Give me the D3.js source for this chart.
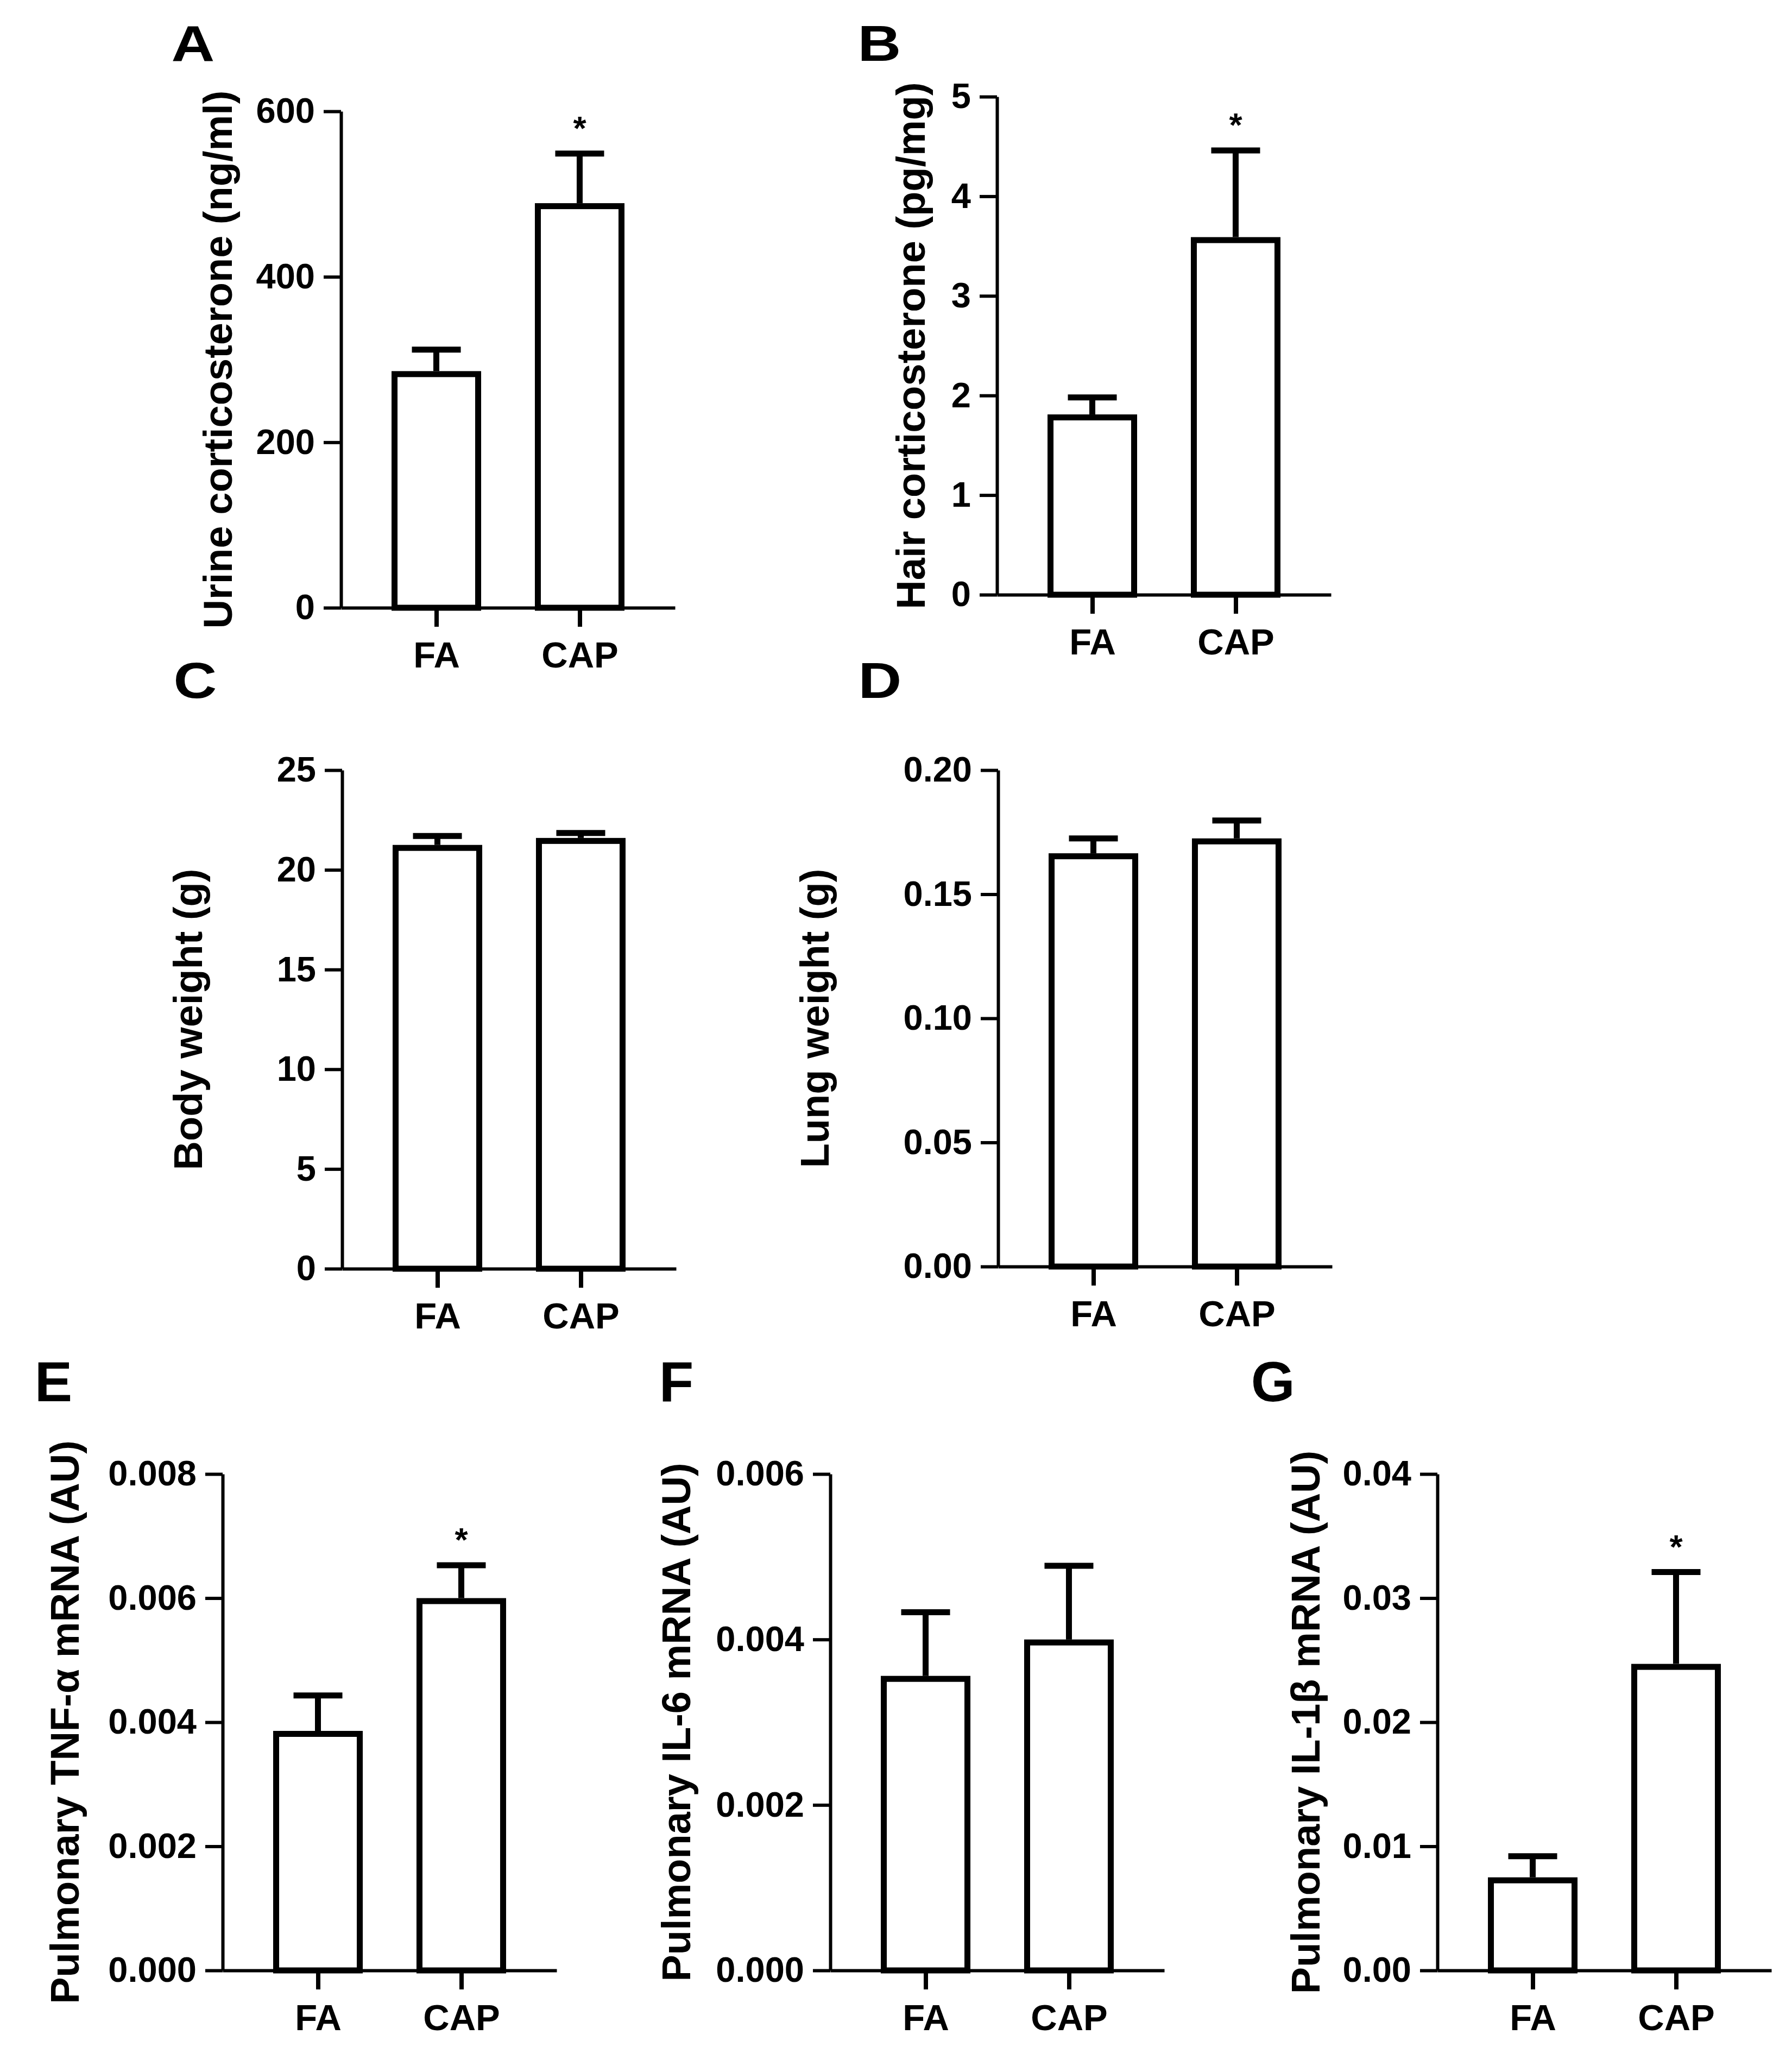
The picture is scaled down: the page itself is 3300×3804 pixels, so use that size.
<!DOCTYPE html>
<html>
<head>
<meta charset="utf-8">
<script src="https://cdn.jsdelivr.net/npm/d3@7"></script>
<style>
  html, body { margin: 0; padding: 0; background: #fff; }
  svg { display: block; }
  text { font-family: "Liberation Sans", Arial, sans-serif; font-weight: bold; fill: #000; }
</style>
</head>
<body>
<svg id="fig" width="3300" height="3804"></svg>
<script>
// ---------- data ----------
const categories = ["FA", "CAP"];

const urineMean = [286, 489];
const urineSem  = [26, 60];
const urineSig  = [false, true];
const urineTicks = [0, 200, 400, 600];

const hairMean = [1.81, 3.59];
const hairSem  = [0.17, 0.87];
const hairSig  = [false, true];
const hairTicks = [0, 1, 2, 3, 4, 5];

const bodyMean = [21.25, 21.6];
const bodySem  = [0.45, 0.25];
const bodySig  = [false, false];
const bodyTicks = [0, 5, 10, 15, 20, 25];

const lungMean = [0.1665, 0.1725];
const lungSem  = [0.006, 0.0072];
const lungSig  = [false, false];
const lungTicks = [0, 0.05, 0.10, 0.15, 0.20];

const tnfMean = [0.00386, 0.0060];
const tnfSem  = [0.00057, 0.00053];
const tnfSig  = [false, true];
const tnfTicks = [0, 0.002, 0.004, 0.006, 0.008];

const il6Mean = [0.00356, 0.0040];
const il6Sem  = [0.00077, 0.00089];
const il6Sig  = [false, false];
const il6Ticks = [0, 0.002, 0.004, 0.006];

const il1bMean = [0.0075, 0.0247];
const il1bSem  = [0.0017, 0.0074];
const il1bSig  = [false, true];
const il1bTicks = [0, 0.01, 0.02, 0.03, 0.04];

// ---------- layout (positions / styles) ----------
const panels = [
  { letter: "A", title: "Urine corticosterone (ng/ml)", mean: urineMean, sem: urineSem, sig: urineSig, ticks: urineTicks, fmt: "d",
    axisX: 628, top: 205, bottom: 1119, titleX: 427, lx: 321, ly: 112, ls: 92, lsx: 1.2 },
  { letter: "B", title: "Hair corticosterone (pg/mg)", mean: hairMean, sem: hairSem, sig: hairSig, ticks: hairTicks, fmt: "d",
    axisX: 1836, top: 178, bottom: 1095, titleX: 1703, lx: 1585, ly: 112, ls: 92, lsx: 1.2 },
  { letter: "C", title: "Body weight (g)", mean: bodyMean, sem: bodySem, sig: bodySig, ticks: bodyTicks, fmt: "d",
    axisX: 630, top: 1418, bottom: 2336, titleX: 372, lx: 325, ly: 1285, ls: 92, lsx: 1.2 },
  { letter: "D", title: "Lung weight (g)", mean: lungMean, sem: lungSem, sig: lungSig, ticks: lungTicks, fmt: ".2f",
    axisX: 1838, top: 1418, bottom: 2332, titleX: 1526, lx: 1586, ly: 1285, ls: 92, lsx: 1.2 },
  { letter: "E", title: "Pulmonary TNF-α mRNA (AU)", mean: tnfMean, sem: tnfSem, sig: tnfSig, ticks: tnfTicks, fmt: ".3f",
    axisX: 410, top: 2714, bottom: 3628, titleX: 145, lx: 69, ly: 2580, ls: 104, lsx: 1.0 },
  { letter: "F", title: "Pulmonary IL-6 mRNA (AU)", mean: il6Mean, sem: il6Sem, sig: il6Sig, ticks: il6Ticks, fmt: ".3f",
    axisX: 1529, top: 2714, bottom: 3628, titleX: 1271, lx: 1219, ly: 2580, ls: 104, lsx: 1.0 },
  { letter: "G", title: "Pulmonary IL-1β mRNA (AU)", mean: il1bMean, sem: il1bSem, sig: il1bSig, ticks: il1bTicks, fmt: ".2f",
    axisX: 2647, top: 2714, bottom: 3628, titleX: 2430, lx: 2309, ly: 2580, ls: 104, lsx: 1.0 }
];

const plotW = 615;
const axisStroke = 6;
const barStroke = 11;
const barW = 154;
const capW = 90;

const svg = d3.select("#fig");
svg.append("rect").attr("width", 3300).attr("height", 3804).attr("fill", "#fff");

panels.forEach(p => {
  const g = svg.append("g");
  const y = d3.scaleLinear()
    .domain([p.ticks[0], p.ticks[p.ticks.length - 1]])
    .range([p.bottom, p.top]);
  const x = d3.scalePoint()
    .domain(categories)
    .range([p.axisX, p.axisX + plotW])
    .padding(0.665);

  const rows = categories.map((c, i) => ({ c, m: p.mean[i], s: p.sem[i], sig: p.sig[i] }));

  // error bars (upper)
  g.selectAll("line.err").data(rows).join("line")
    .attr("x1", d => x(d.c)).attr("x2", d => x(d.c))
    .attr("y1", d => y(d.m)).attr("y2", d => y(d.m + d.s))
    .attr("stroke", "#000").attr("stroke-width", barStroke);
  g.selectAll("line.cap").data(rows).join("line")
    .attr("x1", d => x(d.c) - capW / 2).attr("x2", d => x(d.c) + capW / 2)
    .attr("y1", d => y(d.m + d.s)).attr("y2", d => y(d.m + d.s))
    .attr("stroke", "#000").attr("stroke-width", barStroke);

  // bars
  g.selectAll("rect.bar").data(rows).join("rect")
    .attr("x", d => x(d.c) - barW / 2)
    .attr("width", barW)
    .attr("y", d => y(d.m) + barStroke / 2)
    .attr("height", d => y(0) - y(d.m) - barStroke / 2)
    .attr("fill", "#fff").attr("stroke", "#000").attr("stroke-width", barStroke);

  // significance asterisks
  g.selectAll("text.sig").data(rows.filter(d => d.sig)).join("text")
    .attr("x", d => x(d.c))
    .attr("y", d => y(d.m + d.s) - 62 + 36)
    .attr("text-anchor", "middle")
    .attr("font-size", 62)
    .text("*");

  // y axis
  const yAxis = d3.axisLeft(y)
    .tickValues(p.ticks)
    .tickFormat(d3.format(p.fmt))
    .tickSize(32).tickSizeOuter(0).tickPadding(16);
  const ya = g.append("g").attr("transform", `translate(${p.axisX},0)`).call(yAxis);
  ya.select(".domain").attr("stroke-width", axisStroke).attr("stroke", "#000");
  ya.selectAll(".tick line").attr("stroke-width", axisStroke).attr("stroke", "#000");
  ya.selectAll(".tick text").attr("font-size", 65)
    .style("font-family", '"Liberation Sans", Arial, sans-serif').style("font-weight", "bold");

  // x axis
  const xAxis = d3.axisBottom(x).tickSize(35).tickSizeOuter(0).tickPadding(27);
  const xa = g.append("g").attr("transform", `translate(0,${p.bottom})`).call(xAxis);
  xa.select(".domain").attr("stroke-width", axisStroke).attr("stroke", "#000");
  xa.selectAll(".tick line").attr("stroke-width", 8).attr("stroke", "#000");
  xa.selectAll(".tick text").attr("font-size", 67)
    .style("font-family", '"Liberation Sans", Arial, sans-serif').style("font-weight", "bold");

  // y title
  const cy = (p.top + p.bottom) / 2;
  g.append("text")
    .attr("transform", `translate(${p.titleX},${cy}) rotate(-90)`)
    .attr("text-anchor", "middle")
    .attr("font-size", 74)
    .text(p.title);

  // panel letter
  g.append("text")
    .attr("transform", `translate(${p.lx},${p.ly}) scale(${p.lsx},1)`)
    .attr("x", -p.ls * 0.05)
    .attr("y", 0)
    .attr("font-size", p.ls)
    .text(p.letter);
});
</script>
</body>
</html>
